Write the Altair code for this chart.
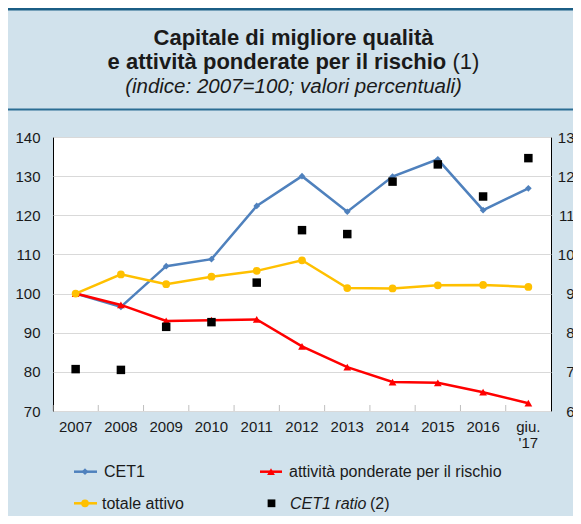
import altair as alt
import pandas as pd

FONT = "Liberation Sans"

years = ["2007", "2008", "2009", "2010", "2011", "2012", "2013", "2014", "2015", "2016", "giu.\n'17"]
cet1 = [100.0, 96.6, 107.0, 108.8, 122.4, 130.0, 120.9, 129.9, 134.3, 121.3, 126.9]
rwa = [100.0, 97.1, 93.0, 93.2, 93.4, 86.5, 81.2, 77.4, 77.2, 74.8, 72.0]
totale = [100.0, 104.9, 102.4, 104.3, 105.8, 108.5, 101.4, 101.3, 102.1, 102.2, 101.7]
cet1_ratio = [7.07, 7.05, 8.15, 8.27, 9.28, 10.62, 10.52, 11.86, 12.30, 11.48, 12.46]

left_ticks = [70, 80, 90, 100, 110, 120, 130, 140]
right_ticks = [6, 7, 8, 9, 10, 11, 12, 13]

series_names = ["CET1", "attività ponderate per il rischio", "totale attivo"]
series_values = [cet1, rwa, totale]

rows = []
for name, vals in zip(series_names, series_values):
    for y, v in zip(years, vals):
        rows.append({"series": name, "year": y, "value": v})
long_df = pd.DataFrame(rows)
ratio_df = pd.DataFrame({"year": years, "ratio": cet1_ratio})

W, H = 498, 274
BLUE = "#4f81bd"
RED = "#ff0000"
YELLOW = "#ffc000"
TXT = "#1a1a1a"

xscale = alt.Scale(type="band", domain=years, paddingInner=0, paddingOuter=0)
xaxis = alt.Axis(title=None, labelAngle=0, ticks=False, domain=False, grid=False,
                 labelPadding=8, labelFontSize=15, labelColor=TXT, labelFont=FONT,
                 labelExpr="split(datum.label, '\\n')", labelLineHeight=16)
xenc = alt.X("year:N", sort=years, scale=xscale, axis=xaxis)
yenc = alt.Y(
    "value:Q", scale=alt.Scale(domain=[70, 140], nice=False, zero=False),
    axis=alt.Axis(title=None, values=left_ticks, ticks=False, domain=False,
                  labelPadding=13, labelFontSize=15, labelColor=TXT, labelFont=FONT,
                  grid=True, gridColor="#d9d9d9", gridWidth=1),
)

base = alt.Chart(long_df)


def series_layers(name, color, shape, size):
    b = base.transform_filter(alt.datum.series == name)
    line = b.mark_line(color=color, strokeWidth=2.5).encode(x=xenc, y=yenc)
    pts = b.mark_point(shape=shape, filled=True, size=size, color=color, opacity=1).encode(x=xenc, y=yenc)
    return [line, pts]


lines = alt.layer(
    *series_layers("CET1", BLUE, "diamond", 45),
    *series_layers("attività ponderate per il rischio", RED, "triangle-up", 60),
    *series_layers("totale attivo", YELLOW, "circle", 60),
)

squares = alt.Chart(ratio_df).mark_point(shape="square", filled=True, size=72, color="black", opacity=1).encode(
    x=xenc,
    y=alt.Y("ratio:Q", scale=alt.Scale(domain=[6, 13], nice=False, zero=False),
            axis=alt.Axis(orient="right", title=None, values=right_ticks, ticks=False, domain=False,
                          grid=False, labelAlign="right", labelPadding=23, labelFontSize=15,
                          labelColor=TXT, labelFont=FONT)),
)

one = alt.Data(values=[{}])

inner_ticks = alt.Chart(ratio_df).mark_rule(color="#bfbfbf", strokeWidth=1).encode(
    x=alt.X("year:N", sort=years, scale=xscale, bandPosition=0, axis=xaxis),
    y=alt.value(H - 6), y2=alt.value(H),
)


def txt(s, x, y, size, weight="normal", style="normal", align="left"):
    return alt.Chart(one).mark_text(
        text=s, fontSize=size, fontWeight=weight, fontStyle=style, align=align,
        baseline="alphabetic", font=FONT, color=TXT,
    ).encode(x=alt.value(x), y=alt.value(y))


def hrule(y, color, width, x1=-50, x2=540):
    return alt.Chart(one).mark_rule(color=color, strokeWidth=width).encode(
        x=alt.value(x1), x2=alt.value(x2), y=alt.value(y))


def legend_line(x1, x2, y, color):
    return alt.Chart(one).mark_rule(color=color, strokeWidth=2.5).encode(
        x=alt.value(x1), x2=alt.value(x2), y=alt.value(y))


def legend_pt(x, y, color, shape, size):
    return alt.Chart(one).mark_point(shape=shape, filled=True, size=size, color=color, opacity=1).encode(
        x=alt.value(x), y=alt.value(y))


title_c = 240.5
r1, r2 = 334.7, 366.3
decor = [
    hrule(-128, "#1b5e85", 3),
    hrule(-27.5, "#2a6d93", 2),
    txt("Capitale di migliore qualità", title_c, -92.5, 22, weight="bold", align="center"),
    txt("e attività ponderate per il rischio", 54.6, -68, 22, weight="bold"),
    txt("(1)", 399.4, -68, 22),
    txt("(indice: 2007=100; valori percentuali)", title_c, -44.5, 20.5, style="italic", align="center"),
    # legend
    legend_line(21, 44, r1, BLUE), legend_pt(32, r1, BLUE, "diamond", 45),
    txt("CET1", 51, r1 + 5.7, 16),
    legend_line(207, 229, r1, RED), legend_pt(218, r1, RED, "triangle-up", 60),
    txt("attività ponderate per il rischio", 236, r1 + 5.7, 16),
    legend_line(21, 44, r2, YELLOW), legend_pt(32, r2, YELLOW, "circle", 60),
    txt("totale attivo", 49, r2 + 5.7, 16),
    legend_pt(218.5, r2, "black", "square", 60),
    txt("CET1 ratio", 237, r2 + 5.7, 16, style="italic"),
    txt("(2)", 317, r2 + 5.7, 16),
]

chart = alt.layer(
    inner_ticks, lines, squares, *decor
).resolve_scale(y="independent").properties(
    width=W, height=H,
    autosize=alt.AutoSizeParams(type="none"),
    padding={"left": 45, "top": 129, "right": 22, "bottom": 105},
    background="#d1e2ec",
).configure_view(stroke="black", strokeWidth=1, fill="white")

chart.save("out.html", embed_options={"renderer": "svg", "actions": False})
